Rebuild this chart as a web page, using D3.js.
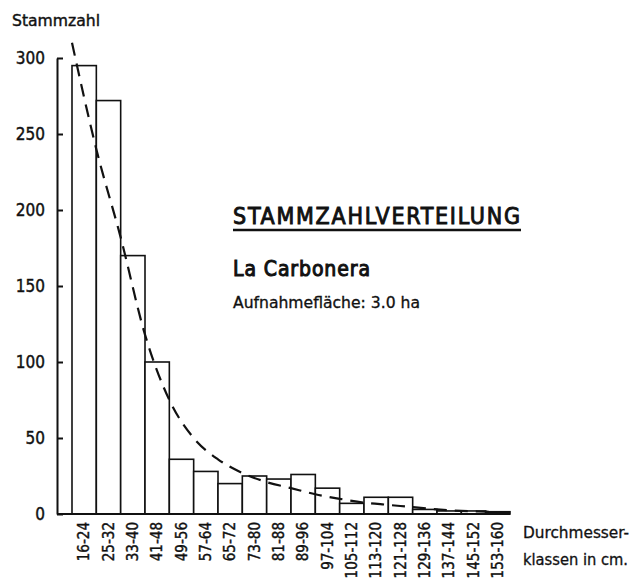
<!DOCTYPE html>
<html><head><meta charset="utf-8">
<script src="https://cdn.jsdelivr.net/npm/d3@7"></script>
<style>
body{margin:0;background:#fff;}
svg{display:block;font-family:"DejaVu Sans Condensed","DejaVu Sans",sans-serif;}
</style></head>
<body>
<svg id="c" width="638" height="580"></svg>
<script>
const classes = ["16-24","25-32","33-40","41-48","49-56","57-64","65-72","73-80","81-88","89-96","97-104","105-112","113-120","121-128","129-136","137-144","145-152","153-160"];
const counts = [295,272,170,100,36,28,20,25,23,26,17,7,11,11,3,2,2,1.5];
const curveAtEdges = [310,240,182,118,75,50,36,27,21,17,13,10,7.5,6,4.5,3,2,1.5,1];
const yTicks = [0,50,100,150,200,250,300];

const FONT = "DejaVu Sans Condensed";
const svg = d3.select("#c");
const x = d3.scaleBand().domain(classes).range([72,510]).padding(0);
const xe = d3.scaleLinear().domain([0,classes.length]).range([72,510]);
const y = d3.scaleLinear().domain([0,300]).range([514,58]);

// bars
svg.append("g").selectAll("rect").data(classes).join("rect")
  .attr("x", d=>x(d)).attr("width", x.bandwidth())
  .attr("y", (d,i)=>y(counts[i])).attr("height",(d,i)=>y(0)-y(counts[i]))
  .attr("fill",(d,i)=> i===classes.length-1 ? "#111" : "#fff")
  .attr("stroke","#111").attr("stroke-width",1.6);

// y axis
const ya = svg.append("g").attr("transform","translate(57,0)")
  .call(d3.axisLeft(y).tickValues(yTicks).tickSizeInner(-6).tickSizeOuter(0).tickPadding(12).tickFormat(d3.format("d")));
ya.select(".domain").attr("stroke","#111").attr("stroke-width",2);
ya.selectAll(".tick line").attr("stroke","#111").attr("stroke-width",2);
ya.selectAll(".tick text").attr("font-size",17).attr("fill","#111").attr("font-family",FONT)
  .attr("stroke","#111").attr("stroke-width",0.4);

// x baseline
svg.append("line").attr("x1",57).attr("x2",510).attr("y1",y(0)).attr("y2",y(0))
  .attr("stroke","#111").attr("stroke-width",2);

// x labels
svg.append("g").selectAll("text").data(classes).join("text")
  .attr("transform", d=>`translate(${x(d)+x.bandwidth()/2+5},522) rotate(-90)`)
  .attr("text-anchor","end").attr("font-size",15).attr("fill","#111")
  .attr("stroke","#111").attr("stroke-width",0.4)
  .attr("font-family",FONT)
  .text(d=>d);

// dashed curve
const line = d3.line().x((d,i)=>xe(i)).y(d=>y(d)).curve(d3.curveMonotoneX);
svg.append("path").datum(curveAtEdges).attr("d",line)
  .attr("fill","none").attr("stroke","#111").attr("stroke-width",2.2)
  .attr("stroke-dasharray","13,8");

// texts
svg.append("text").attr("x",12).attr("y",26).attr("font-size",16).attr("fill","#111")
  .attr("stroke","#111").attr("stroke-width",0.4)
  .attr("textLength",88).attr("lengthAdjust","spacingAndGlyphs").text("Stammzahl");
svg.append("text").attr("x",233).attr("y",224).attr("font-size",23).attr("fill","#111")
  .attr("stroke","#111").attr("stroke-width",0.9)
  .attr("textLength",287).attr("lengthAdjust","spacing").text("STAMMZAHLVERTEILUNG");
svg.append("line").attr("x1",233).attr("x2",521).attr("y1",230).attr("y2",230).attr("stroke","#111").attr("stroke-width",2.5);
svg.append("text").attr("x",233).attr("y",276).attr("font-size",21).attr("fill","#111")
  .attr("stroke","#111").attr("stroke-width",1)
  .attr("textLength",137).attr("lengthAdjust","spacing").text("La Carbonera");
svg.append("text").attr("x",233).attr("y",308).attr("font-size",15).attr("fill","#111")
  .attr("stroke","#111").attr("stroke-width",0.3)
  .attr("textLength",187).attr("lengthAdjust","spacingAndGlyphs").text("Aufnahmefläche: 3.0 ha");
svg.append("text").attr("x",523).attr("y",538).attr("font-size",16).attr("fill","#111")
  .attr("stroke","#111").attr("stroke-width",0.3)
  .attr("textLength",106).attr("lengthAdjust","spacingAndGlyphs").text("Durchmesser-");
svg.append("text").attr("x",523).attr("y",565).attr("font-size",16).attr("fill","#111")
  .attr("stroke","#111").attr("stroke-width",0.3)
  .attr("textLength",105).attr("lengthAdjust","spacingAndGlyphs").text("klassen in cm.");
</script>
</body></html>
